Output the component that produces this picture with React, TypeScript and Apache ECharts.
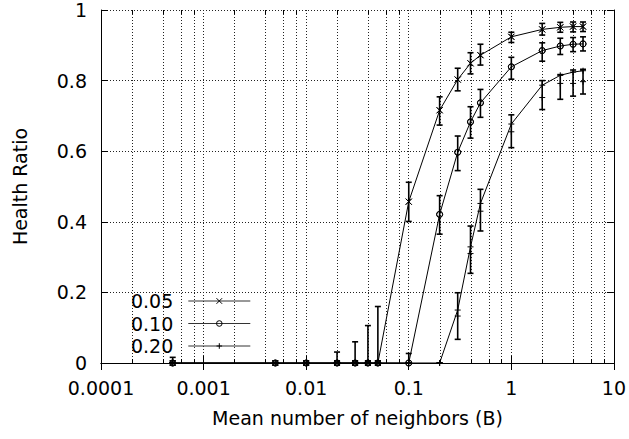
import React, { useEffect, useRef } from "react";
import * as echarts from "echarts";

// ---- data ----
const xValues = [0.0005, 0.005, 0.01, 0.02, 0.03, 0.04, 0.05, 0.1, 0.2, 0.3, 0.4, 0.5, 1, 2, 3, 4, 5];
const seriesNames = ["0.05", "0.10", "0.20"];

// line (mean) values
const ratio005 = [0, 0, 0, 0, 0, 0, 0, 0.457, 0.716, 0.803, 0.849, 0.872, 0.924, 0.945, 0.951, 0.953, 0.953];
const ratio010 = [0, 0, 0, 0, 0, 0, 0, 0, 0.421, 0.597, 0.683, 0.737, 0.839, 0.885, 0.898, 0.903, 0.904];
const ratio020 = [0, 0, 0, 0, 0, 0, 0, 0, 0, 0.15, 0.329, 0.452, 0.677, 0.787, 0.815, 0.824, 0.828];

// error bar centre / low / high
const center005 = [0, 0, 0, 0, 0, 0, 0, 0.457, 0.716, 0.803, 0.849, 0.872, 0.924, 0.945, 0.951, 0.953, 0.953];
const low005 = [0, 0, 0, 0, 0, 0, 0, 0.401, 0.674, 0.771, 0.819, 0.844, 0.908, 0.929, 0.937, 0.938, 0.939];
const high005 = [0.016, 0, 0, 0.031, 0.06, 0.106, 0.16, 0.512, 0.754, 0.835, 0.879, 0.903, 0.937, 0.962, 0.965, 0.966, 0.966];

const center010 = [0, 0, 0, 0, 0, 0, 0, 0, 0.421, 0.597, 0.683, 0.737, 0.839, 0.885, 0.898, 0.903, 0.904];
const low010 = [0, 0, 0, 0, 0, 0, 0, 0, 0.365, 0.545, 0.637, 0.696, 0.804, 0.855, 0.874, 0.882, 0.884];
const high010 = [0, 0, 0, 0, 0, 0, 0, 0.027, 0.474, 0.643, 0.726, 0.775, 0.866, 0.907, 0.92, 0.922, 0.924];

const center020 = [0, 0, 0, 0, 0, 0, 0, 0, 0, 0.133, 0.31, 0.43, 0.655, 0.752, 0.792, 0.792, 0.797];
const low020 = [0, 0, 0, 0, 0, 0, 0, 0, 0, 0.067, 0.254, 0.374, 0.61, 0.718, 0.747, 0.756, 0.762];
const high020 = [0, 0, 0, 0, 0, 0, 0, 0, 0, 0.199, 0.388, 0.492, 0.703, 0.8, 0.817, 0.83, 0.832];

const xMajorTicks = [0.0001, 0.001, 0.01, 0.1, 1, 10];
const xTickLabels = ["0.0001", "0.001", "0.01", "0.1", "1", "10"];
const xMinorTicks = [
  0.0002, 0.0004, 0.0006, 0.0008,
  0.002, 0.004, 0.006, 0.008,
  0.02, 0.04, 0.06, 0.08,
  0.2, 0.4, 0.6, 0.8,
  2, 4, 6, 8,
];
const yMin = 0;
const yMax = 1;
const yInterval = 0.2;

const xAxisName = "Mean number of neighbors (B)";
const yAxisName = "Health Ratio";

// ---- styling ----
const FONT = "DejaVu Sans";
const FS = 19;
const GRID_COLOR = "#222";
const X_PATH = "path://M0,0L10,10M10,0L0,10";
const PLUS_PATH = "path://M5,0L5,10M0,5L10,5";
const CIRCLE_PATH = "path://M10,5A5,5 0 1 1 0,5A5,5 0 1 1 10,5Z";

type Kind = "x" | "circle" | "plus";
const kinds: Kind[] = ["x", "circle", "plus"];
const ratios = [ratio005, ratio010, ratio020];
const centers = [center005, center010, center020];
const lows = [low005, low010, low020];
const highs = [high005, high010, high020];

function symbolFor(k: Kind) {
  if (k === "x") return X_PATH;
  if (k === "plus") return PLUS_PATH;
  return CIRCLE_PATH;
}

function crisp(v: number) {
  return Math.round(v) + 0.5;
}

function markerShapes(k: Kind, cx: number, cy: number, r: number) {
  const st = { stroke: "#000", lineWidth: 1, fill: "none" };
  if (k === "circle") {
    return [{ type: "circle", shape: { cx, cy, r }, style: st }];
  }
  if (k === "x") {
    return [
      { type: "line", shape: { x1: cx - r, y1: cy - r, x2: cx + r, y2: cy + r }, style: st },
      { type: "line", shape: { x1: cx + r, y1: cy - r, x2: cx - r, y2: cy + r }, style: st },
    ];
  }
  return [
    { type: "line", shape: { x1: cx - r, y1: cy, x2: cx + r, y2: cy }, style: st },
    { type: "line", shape: { x1: cx, y1: cy - r, x2: cx, y2: cy + r }, style: st },
  ];
}

export default function App() {
  const ref = useRef<HTMLDivElement>(null);

  useEffect(() => {
    if (!ref.current) return;
    const chart = echarts.init(ref.current, undefined, { renderer: "svg" });

    const lineSeries = seriesNames.map((name, si) => ({
      name,
      type: "line",
      data: xValues.map((x, i) => [x, ratios[si][i]]),
      symbol: symbolFor(kinds[si]),
      symbolSize: 6,
      showSymbol: true,
      lineStyle: { color: "#000", width: 1 },
      itemStyle: {
        color: "rgba(0,0,0,0)",
        borderColor: "#000",
        borderWidth: 1,
      },
      z: 4,
      silent: true,
    }));

    const errorSeries = seriesNames.map((name, si) => ({
      name: name + " err",
      type: "custom",
      data: xValues.map((x, i) => [x, lows[si][i], highs[si][i], centers[si][i]]),
      encode: { x: 0, y: [1, 2] },
      z: 3,
      silent: true,
      renderItem: (params: any, api: any) => {
        const x = api.value(0);
        const lo = api.value(1);
        const hi = api.value(2);
        const c = api.value(3);
        const p1 = api.coord([x, lo]);
        const p2 = api.coord([x, hi]);
        const px = p1[0];
        const cw = 3;
        const st = { stroke: "#000", lineWidth: 1.6 };
        const children: any[] = [
          { type: "line", shape: { x1: px, y1: p1[1], x2: px, y2: p2[1] }, style: st },
          { type: "line", shape: { x1: px - cw, y1: p1[1], x2: px + cw, y2: p1[1] }, style: st },
          { type: "line", shape: { x1: px - cw, y1: p2[1], x2: px + cw, y2: p2[1] }, style: st },
        ];
        const mid = api.coord([x, c]);
        children.push(...markerShapes(kinds[si], px, mid[1], 3));
        return { type: "group", children };
      },
    }));

    const minorSeries = {
      name: "minor",
      type: "custom",
      data: xMinorTicks.map((v) => [v, yMin]),
      encode: { x: 0, y: 1 },
      z: 1,
      silent: true,
      renderItem: (params: any, api: any) => {
        const v = api.value(0);
        const b = api.coord([v, yMin]);
        const t = api.coord([v, yMax]);
        const x = crisp(b[0]);
        return {
          type: "group",
          children: [
            {
              type: "line",
              shape: { x1: x, y1: b[1], x2: x, y2: t[1] },
              style: { stroke: GRID_COLOR, lineWidth: 1, lineDash: [1, 2] },
            },
            { type: "line", shape: { x1: x, y1: b[1], x2: x, y2: b[1] - 4 }, style: { stroke: "#000", lineWidth: 1 } },
            { type: "line", shape: { x1: x, y1: t[1], x2: x, y2: t[1] + 4 }, style: { stroke: "#000", lineWidth: 1 } },
          ],
        };
      },
    };

    const xLabelFormatter = (v: number) => {
      const i = xMajorTicks.findIndex((t) => Math.abs(Math.log10(t) - Math.log10(v)) < 1e-6);
      return i >= 0 ? xTickLabels[i] : "";
    };

    const axisLine = { show: true, lineStyle: { color: "#000", width: 1 } };
    const axisTick = { show: true, inside: true, length: 7, lineStyle: { color: "#000", width: 1 } };
    const splitLine = { show: true, lineStyle: { color: GRID_COLOR, width: 1, type: [1, 2] } };

    const option: any = {
      animation: false,
      backgroundColor: "#fff",
      textStyle: { fontFamily: FONT },
      grid: { left: 101, right: 12, top: 10, bottom: 76, containLabel: false },
      legend: {
        data: seriesNames,
        orient: "vertical",
        left: 126,
        top: 286,
        align: "right",
        itemWidth: 62,
        itemHeight: 7,
        itemGap: 2.5,
        lineStyle: { width: 1, color: "#333" },
        itemStyle: { borderWidth: 1, borderColor: "#000", color: "rgba(0,0,0,0)" },
        textStyle: { fontFamily: FONT, fontSize: FS, lineHeight: 20, color: "#000", padding: [0, 10, 0, 0] },
        selectedMode: false,
      },
      xAxis: [
        {
          type: "log",
          logBase: 10,
          min: xMajorTicks[0],
          max: xMajorTicks[xMajorTicks.length - 1],
          name: xAxisName,
          nameLocation: "middle",
          nameGap: 45,
          nameTextStyle: { fontFamily: FONT, fontSize: FS, color: "#000" },
          axisLine,
          axisTick,
          axisLabel: { fontFamily: FONT, fontSize: FS, color: "#000", margin: 15, formatter: xLabelFormatter },
          splitLine,
          minorTick: { show: false },
        },
        {
          type: "log",
          logBase: 10,
          position: "top",
          min: xMajorTicks[0],
          max: xMajorTicks[xMajorTicks.length - 1],
          axisLine,
          axisTick,
          axisLabel: { show: false },
          splitLine: { show: false },
        },
      ],
      yAxis: [
        {
          type: "value",
          min: yMin,
          max: yMax,
          interval: yInterval,
          name: yAxisName,
          nameLocation: "middle",
          nameGap: 72,
          nameTextStyle: { fontFamily: FONT, fontSize: FS, color: "#000" },
          axisLine,
          axisTick,
          axisLabel: { fontFamily: FONT, fontSize: FS, color: "#000", margin: 14 },
          splitLine,
        },
        {
          type: "value",
          position: "right",
          min: yMin,
          max: yMax,
          interval: yInterval,
          axisLine,
          axisTick,
          axisLabel: { show: false },
          splitLine: { show: false },
        },
      ],
      series: [minorSeries, ...errorSeries, ...lineSeries],
    };

    chart.setOption(option);
    return () => chart.dispose();
  }, []);

  return (
    <div
      ref={ref}
      style={{ position: "fixed", left: 0, top: 0, width: 629, height: 439, background: "#fff" }}
    />
  );
}
